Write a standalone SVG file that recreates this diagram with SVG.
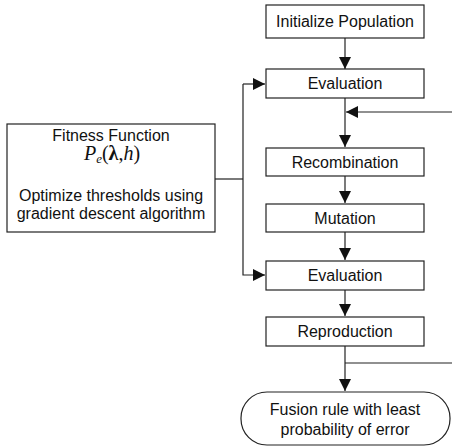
<svg xmlns="http://www.w3.org/2000/svg" width="452" height="448" viewBox="0 0 452 448">
<style>
.box{fill:#fff;stroke:#222;stroke-width:1.2}
.t{font-family:"Liberation Sans",Arial,sans-serif;font-size:16px;fill:#111;text-anchor:middle}
.m{font-family:"Liberation Serif","Times New Roman",serif;font-size:20px;fill:#111;text-anchor:middle}
.c{fill:none;stroke:#222;stroke-width:1.2}
</style>
<defs>
<marker id="ah" markerWidth="12" markerHeight="12" refX="12" refY="6" orient="auto" markerUnits="userSpaceOnUse" viewBox="0 0 12 12">
<path d="M0,0 L12,6 L0,12 Z" fill="#111"/>
</marker>
</defs>
<rect width="452" height="448" fill="#fff"/>
<g id="connectors">
<path class="c" d="M345,38 V69" marker-end="url(#ah)"/>
<path class="c" d="M345,98 V147" marker-end="url(#ah)"/>
<path class="c" d="M452,112 H346" marker-end="url(#ah)"/>
<path class="c" d="M345,176 V203" marker-end="url(#ah)"/>
<path class="c" d="M345,232 V260" marker-end="url(#ah)"/>
<path class="c" d="M345,290 V316" marker-end="url(#ah)"/>
<path class="c" d="M345,346 V391" marker-end="url(#ah)"/>
<path class="c" d="M345,363 H452"/>
<path class="c" d="M215,179 H243"/>
<path class="c" d="M243,84 H265" marker-end="url(#ah)"/>
<path class="c" d="M243,84 V275 H265" marker-end="url(#ah)"/>
</g>
<g id="init">
<rect class="box" x="266" y="5" width="158" height="33"/>
<text class="t" x="345" y="27">Initialize Population</text>
</g>
<g id="eval1">
<rect class="box" x="266" y="69" width="158" height="29"/>
<text class="t" x="345" y="89">Evaluation</text>
</g>
<g id="recomb">
<rect class="box" x="266" y="148" width="158" height="28"/>
<text class="t" x="345" y="168">Recombination</text>
</g>
<g id="mutation">
<rect class="box" x="266" y="204" width="158" height="28"/>
<text class="t" x="345" y="224">Mutation</text>
</g>
<g id="eval2">
<rect class="box" x="266" y="261" width="158" height="29"/>
<text class="t" x="345" y="281">Evaluation</text>
</g>
<g id="repro">
<rect class="box" x="266" y="317" width="158" height="29"/>
<text class="t" x="345" y="337">Reproduction</text>
</g>
<g id="fusion">
<rect class="box" x="241" y="392" width="209" height="53" rx="26" ry="26"/>
<text class="t" x="345" y="415">Fusion rule with least</text>
<text class="t" x="345" y="435">probability of error</text>
</g>
<g id="fitness">
<rect class="box" x="7" y="124" width="208" height="108"/>
<text class="t" x="111" y="141">Fitness Function</text>
<text class="m" x="112" y="160"><tspan font-style="italic">P</tspan><tspan font-style="italic" font-size="13" dy="3">e</tspan><tspan dy="-3">(</tspan><tspan font-weight="bold">λ</tspan><tspan>,</tspan><tspan font-style="italic">h</tspan><tspan>)</tspan></text>
<text class="t" x="111" y="201">Optimize thresholds using</text>
<text class="t" x="111" y="219">gradient descent algorithm</text>
</g>
</svg>
